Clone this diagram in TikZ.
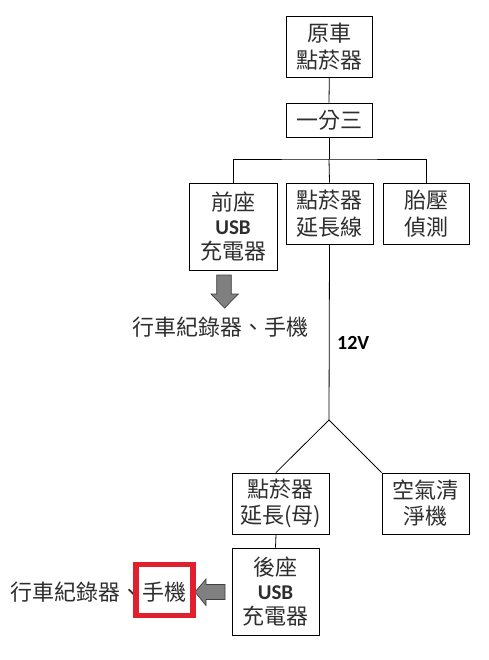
\documentclass[tikz,border=0pt]{standalone}
\usepackage{fontspec}
\setmainfont{Noto Sans CJK TC}
\newfontfamily\lat{Carlito}
\definecolor{txt}{HTML}{2E2E2E}
\definecolor{hlred}{HTML}{E0202C}
\definecolor{arrfill}{HTML}{808080}
\definecolor{arrline}{HTML}{404040}
\begin{document}
\begin{tikzpicture}[x=1pt,y=-1pt,
  box/.style={draw, line width=0.9pt, inner sep=0pt, align=center, text=txt,
    font=\fontsize{22}{27}\selectfont},
  tallbox/.style={box, font=\fontsize{22}{24.5}\selectfont},
  wire/.style={line width=0.8pt},
  blockarrow/.style={fill=arrfill, draw=arrline, line width=0.7pt},
  lbl/.style={inner sep=0pt, text=txt, font=\fontsize{22}{27}\selectfont}]
\useasboundingbox (0,0) rectangle (488,660);
\fill[white] (0,0) rectangle (488,660);

% boxes
\node[box, minimum width=86.7pt, minimum height=61pt] (A) at (329.3,46.5) {原車\\點菸器};
\node[box, minimum width=86pt, minimum height=34pt] (B) at (329,120) {一分三};
\node[tallbox, minimum width=88pt, minimum height=87pt] (C) at (233,226.5) {前座\\{\lat\bfseries\fontsize{21}{24.5}\selectfont USB}\\充電器};
\node[box, minimum width=87pt, minimum height=61pt] (D) at (329.5,213.5) {點菸器\\延長線};
\node[box, minimum width=86pt, minimum height=61pt] (E) at (426,213.5) {胎壓\\偵測};
\node[box, minimum width=97pt, minimum height=61pt, font=\fontsize{22}{26}\selectfont] (F) at (280.5,503.5) {點菸器\\延長(母)};
\node[box, minimum width=87pt, minimum height=61pt, font=\fontsize{22}{26}\selectfont] (G) at (425.5,503.5) {空氣清\\淨機};
\node[tallbox, minimum width=87pt, minimum height=87pt] (H) at (275.5,591.5) {後座\\{\lat\bfseries\fontsize{21}{24.5}\selectfont USB}\\充電器};

% junctions
\coordinate (J) at (329,159);
\coordinate (P) at (329,420);

% connectors
\draw[wire] (A.south) -- (B.north);
\draw[wire] (B.south) -- (J);
\draw[wire] (C.north) |- (J) -| (E.north);
\draw[wire] (J) -- (D.north);
\draw[wire] (D.south) -- (P);
\draw[wire] (P) -- ([xshift=-4.5pt]F.north);
\draw[wire] (P) -- (G.north west);
\draw[wire] ([xshift=-4.5pt]F.south) -- ([xshift=0pt]H.north);

% labels
\node[lbl] (T1) at (220.5,327) {行車紀錄器、手機};
\node[lbl] (T2) at (98.5,592) {行車紀錄器、手機};
\node[inner sep=0pt, anchor=west, font=\lat\bfseries\fontsize{20}{24}\selectfont, text=black] (V) at (337,343) {12V};

% block arrows
\draw[blockarrow] (216.7,275) -- (231.3,275) -- (231.3,294) -- (238.3,294) -- (224.6,308) -- (211,294) -- (216.7,294) -- cycle;
\draw[blockarrow] (225,584.5) -- (206,584.5) -- (206,579) -- (195,592) -- (206,605.5) -- (206,599.5) -- (225,599.5) -- cycle;

% highlight
\node[draw=hlred, line width=5.5pt, minimum width=57pt, minimum height=51pt, inner sep=0pt] (R) at (164.5,590) {};
\end{tikzpicture}
\end{document}
